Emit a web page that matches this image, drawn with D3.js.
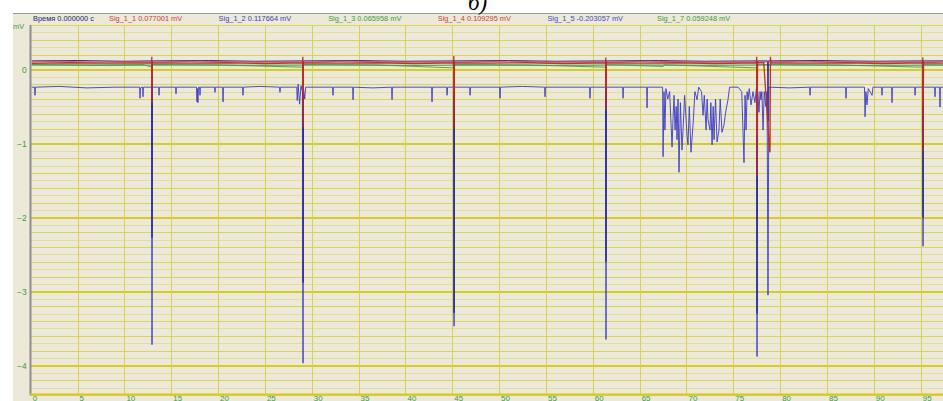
<!DOCTYPE html>
<html><head><meta charset="utf-8">
<script src="https://cdn.jsdelivr.net/npm/d3@7"></script>
<style>body{margin:0;background:#fff}svg{display:block}</style>
</head><body><svg id="c" width="943" height="401"></svg>
<script>
// ---------- data ----------
const titleText = "б)";
const unitLabel = "mV";
const xTicks = [0,5,10,15,20,25,30,35,40,45,50,55,60,65,70,75,80,85,90,95];
const yTicks = [0,-1,-2,-3,-4];
const headerLabels = ["Время 0.000000 с","Sig_1_1 0.077001 mV","Sig_1_2 0.117664 mV","Sig_1_3 0.065958 mV","Sig_1_4 0.109295 mV","Sig_1_5 -0.203057 mV","Sig_1_7 0.059248 mV"];

const sig11 = [[0,0.08],[4,0.09],[8,0.085],[12.9,0.09],[12.93,0.17],[12.95,-0.45],[12.99,0.09],[17,0.085],[21,0.09],[25,0.08],[29.02,0.09],[29.05,0.17],[29.07,-0.78],[29.11,0.09],[33,0.085],[37,0.09],[41,0.08],[45.14,0.09],[45.17,0.18],[45.19,-0.8],[45.23,0.09],[49,0.085],[53,0.09],[57,0.08],[61.36,0.09],[61.39,0.16],[61.41,-0.55],[61.45,0.09],[65,0.085],[69,0.09],[73,0.08],[77.46,0.09],[77.5,0.17],[77.53,-1.45],[77.58,0.09],[78.25,0.09],[78.88,-1.12],[78.92,-1.1],[78.96,0.17],[79.02,0.09],[83,0.085],[87,0.09],[91,0.08],[95.2,0.09],[95.23,0.16],[95.25,-1.1],[95.3,0.09],[97.5,0.085]];
const sig14 = [[0,0.1],[3,0.11],[7,0.1],[11,0.105],[12.91,0.1],[12.96,-0.2],[13.0,0.1],[18,0.11],[23,0.1],[29.03,0.1],[29.08,-0.3],[29.12,0.1],[34,0.11],[39,0.1],[45.15,0.1],[45.2,-0.3],[45.24,0.1],[51,0.11],[56,0.1],[61.37,0.1],[61.42,-0.25],[61.46,0.1],[66,0.11],[71,0.1],[77.47,0.1],[77.54,-0.9],[77.6,0.1],[82,0.11],[88,0.1],[95.21,0.1],[95.26,-0.5],[95.31,0.1],[97.5,0.105]];
const sig12 = [[0,0.115],[5,0.12],[10,0.11],[12.91,0.115],[12.95,-2.27],[12.99,0.115],[19,0.12],[24,0.11],[29.03,0.115],[29.07,-2.88],[29.11,0.115],[35,0.12],[40,0.11],[45.15,0.115],[45.19,-3.29],[45.23,0.115],[51,0.12],[56,0.11],[61.37,0.115],[61.41,-2.6],[61.45,0.115],[67,0.12],[72,0.11],[77.49,0.115],[77.53,-3.3],[77.57,0.115],[78.66,0.115],[78.7,-0.7],[78.74,0.115],[84,0.12],[90,0.11],[95.21,0.115],[95.25,-2.0],[95.29,0.115],[97.5,0.115]];
const sig13 = [[0,0.066],[6,0.06],[12,0.065],[12.95,0.03],[13.0,0.065],[20,0.06],[29.07,0.03],[29.12,0.065],[37,0.06],[45.19,0.02],[45.24,0.065],[53,0.06],[61.41,0.03],[61.46,0.065],[67.5,0.04],[67.6,0.062],[77.53,0.02],[77.6,0.065],[86,0.06],[95.25,0.03],[95.3,0.065],[97.5,0.06]];
const sig17 = [[0,0.059],[8,0.055],[16,0.06],[24,0.056],[32,0.06],[40,0.055],[48,0.058],[56,0.055],[64,0.06],[72,0.056],[80,0.06],[88,0.055],[97.5,0.058]];
const sig15 = [[0,-0.24],[0.42,-0.24],[0.46,-0.35],[0.5,-0.24],[3,-0.23],[6,-0.25],[9,-0.24],
[11.63,-0.24],[11.67,-0.39],[11.72,-0.25],[11.95,-0.24],[11.99,-0.37],[12.03,-0.24],
[12.91,-0.24],[12.95,-3.72],[12.99,-0.24],
[13.66,-0.24],[13.7,-0.35],[13.74,-0.24],[15.47,-0.24],[15.51,-0.33],[15.55,-0.24],
[17.7,-0.24],[17.75,-0.44],[17.8,-0.26],[17.85,-0.45],[17.9,-0.24],[18.03,-0.24],[18.07,-0.35],[18.11,-0.24],
[19.63,-0.24],[19.67,-0.31],[19.71,-0.24],[20.49,-0.24],[20.53,-0.44],[20.57,-0.24],
[22.62,-0.24],[22.66,-0.35],[22.7,-0.24],[24.5,-0.23],[26.57,-0.24],[26.61,-0.31],[26.65,-0.24],
[28.4,-0.24],[28.45,-0.42],[28.55,-0.2],[28.7,-0.47],[28.85,-0.22],[29.0,-0.3],[29.07,-3.97],[29.12,-0.26],[29.25,-0.4],[29.35,-0.24],
[32.23,-0.24],[32.27,-0.35],[32.31,-0.24],[34.37,-0.24],[34.41,-0.41],[34.45,-0.24],[36.5,-0.25],
[38.53,-0.24],[38.57,-0.41],[38.61,-0.24],[42.8,-0.24],[42.84,-0.44],[42.88,-0.24],
[44.4,-0.24],[44.44,-0.35],[44.5,-0.24],[45.15,-0.24],[45.19,-3.47],[45.23,-0.24],
[46.86,-0.24],[46.9,-0.35],[46.94,-0.24],[50.06,-0.24],[50.1,-0.39],[50.14,-0.24],[52.5,-0.23],
[54.86,-0.24],[54.9,-0.37],[54.94,-0.24],[59.66,-0.24],[59.7,-0.39],[59.74,-0.24],
[61.37,-0.24],[61.41,-3.65],[61.45,-0.24],[63.19,-0.24],[63.23,-0.39],[63.27,-0.24],
[65.75,-0.24],[65.79,-0.52],[65.83,-0.24],
[67.45,-0.24],[67.5,-1.18],[67.6,-0.3],[67.7,-0.82],[67.8,-0.26],[68.0,-0.4],[68.2,-0.3],[68.46,-1.05],[68.56,-0.68],[68.67,-0.35],[68.78,-0.82],[68.9,-0.5],[68.99,-0.95],[69.1,-0.4],[69.2,-1.39],[69.35,-0.45],[69.52,-1.09],[69.63,-0.82],[69.8,-0.35],[70.06,-0.89],[70.16,-1.02],[70.3,-0.5],[70.48,-1.12],[70.7,-0.75],[70.9,-0.3],[71.13,-0.41],[71.3,-0.24],[71.6,-0.3],[71.77,-0.62],[71.9,-0.35],[72.09,-0.82],[72.2,-0.4],[72.3,-0.68],[72.51,-0.82],[72.6,-0.45],[72.73,-1.02],[72.85,-0.5],[72.94,-0.95],[73.1,-0.4],[73.26,-0.98],[73.47,-0.82],[73.6,-0.4],[73.79,-0.85],[74.0,-0.75],[74.22,-0.55],[74.43,-0.41],[74.6,-0.24],
[75.5,-0.24],[75.9,-0.3],[76.14,-1.26],[76.25,-0.35],[76.36,-0.82],[76.47,-0.3],[76.57,-0.41],[76.7,-0.26],[76.89,-0.48],[77.1,-0.3],[77.3,-0.45],[77.48,-0.24],[77.53,-3.88],[77.6,-0.3],[77.74,-0.58],[77.85,-0.3],[77.95,-0.41],[78.05,-0.3],[78.17,-0.82],[78.3,-0.3],[78.45,-0.5],[78.6,-0.3],[78.7,-3.05],[78.8,-0.24],
[81,-0.25],[83.15,-0.24],[83.19,-0.35],[83.23,-0.24],[86.99,-0.24],[87.03,-0.39],[87.07,-0.24],
[89.0,-0.24],[89.06,-0.64],[89.15,-0.3],[89.27,-0.48],[89.4,-0.26],[89.81,-0.35],[89.9,-0.24],
[90.83,-0.24],[90.87,-0.35],[90.91,-0.24],[91.9,-0.24],[91.94,-0.45],[91.98,-0.24],
[94.36,-0.24],[94.4,-0.35],[94.44,-0.24],[95.21,-0.24],[95.25,-2.39],[95.29,-0.24],
[96.49,-0.24],[96.53,-0.37],[96.57,-0.24],[97.02,-0.24],[97.06,-0.51],[97.1,-0.24],[97.5,-0.24]];

// ---------- layout ----------
const svg = d3.select("#c");
const W = 943, H = 401;
const plotL = 30.7, plotT = 25, plotB = 394.5;
const x = d3.scaleLinear().domain([0, 95]).range([30.7, 920.7]);
const y = d3.scaleLinear().domain([0.6, -4.4]).range([25, 395]);
const bg = "#ECE9D8";
const labelGreen = "#3f9a3f";
const font = "'Liberation Sans', Arial, sans-serif";

svg.append("rect").attr("width", W).attr("height", H).attr("fill", "#fff");
svg.append("rect").attr("x", 13).attr("y", 13).attr("width", W - 13).attr("height", H - 13).attr("fill", bg);
svg.append("line").attr("x1", 13).attr("x2", W).attr("y1", 13.5).attr("y2", 13.5).attr("stroke", "#9a9a9a").attr("stroke-width", 1);

// title
svg.append("text").attr("x", 468).attr("y", 10).attr("font-family", "'Liberation Serif', 'DejaVu Serif', serif")
  .attr("font-style", "italic").attr("font-size", 23).attr("fill", "#000").text(titleText);

// header labels
const headerColors = ["#1e1e70", "#c84040", "#4040b0", "#3f9a3f", "#c84040", "#4848c0", "#3f9a3f"];
svg.append("g").selectAll("text").data(headerLabels).join("text")
  .attr("x", (d, i) => i === 0 ? 33 : 109 + (i - 1) * 109.6)
  .attr("y", 20.5).attr("font-family", font).attr("font-size", 7.4)
  .attr("fill", (d, i) => headerColors[i]).text(d => d);

// grid
const grid = svg.append("g").attr("shape-rendering", "crispEdges");
const hVals = d3.range(-44, 7).map(k => k / 10);
grid.selectAll("line.h").data(hVals).join("line").attr("class", "h")
  .attr("x1", plotL).attr("x2", W)
  .attr("y1", d => Math.round(y(d)) + 0.5).attr("y2", d => Math.round(y(d)) + 0.5)
  .attr("stroke", d => {
    const k = Math.round(d * 10);
    if (k % 10 === 0) return "#d6cd22";
    if (k % 2 === 0) return "#dad45a";
    return "#e1dd9c";
  })
  .attr("stroke-width", d => Math.round(d * 10) % 10 === 0 ? 2 : 1);
grid.selectAll("line.v").data(xTicks.filter(t => t > 0)).join("line").attr("class", "v")
  .attr("x1", d => Math.round(x(d)) + 0.5).attr("x2", d => Math.round(x(d)) + 0.5)
  .attr("y1", plotT).attr("y2", plotB)
  .attr("stroke", "#d8d054").attr("stroke-width", 1);

// clip for signals
svg.append("clipPath").attr("id", "clip").append("rect")
  .attr("x", plotL + 1).attr("y", plotT).attr("width", W - plotL).attr("height", plotB - plotT);

const line = d3.line().x(d => x(d[0])).y(d => y(d[1]));
const sigG = svg.append("g").attr("clip-path", "url(#clip)");
const series = [
  {data: sig17, color: "#2f9a2f", w: 1, o: 1},
  {data: sig13, color: "#3aa03a", w: 1, o: 0.9},
  {data: sig15, color: "#3b3bc6", w: 1, o: 0.9},
  {data: sig12, color: "#2a2aa0", w: 1, o: 1},
  {data: sig14, color: "#d04848", w: 1, o: 0.85},
  {data: sig11, color: "#c02828", w: 1.3, o: 0.95}
];
sigG.selectAll("path").data(series).join("path")
  .attr("d", d => line(d.data)).attr("fill", "none")
  .attr("stroke", d => d.color).attr("stroke-width", d => d.w).attr("stroke-opacity", d => d.o)
  .attr("stroke-linejoin", "miter");

// axes lines
svg.append("line").attr("x1", 30.5).attr("x2", 30.5).attr("y1", plotT).attr("y2", plotB + 1)
  .attr("stroke", "#8e8e8e").attr("stroke-width", 2);
svg.append("line").attr("x1", 30).attr("x2", W).attr("y1", plotB).attr("y2", plotB)
  .attr("stroke", "#d4ca1e").attr("stroke-width", 2);

// y axis
const yAxis = svg.append("g").attr("transform", `translate(${plotL},0)`)
  .call(d3.axisLeft(y).tickValues(yTicks).tickSize(0).tickPadding(4).tickFormat(d3.format("d")));
yAxis.select(".domain").remove();
yAxis.selectAll("text").attr("font-family", font).attr("font-size", 8.5).attr("fill", labelGreen);

// x axis
const xAxis = svg.append("g").attr("transform", `translate(0,${plotB})`)
  .call(d3.axisBottom(x).tickValues(xTicks).tickSize(0).tickFormat(d3.format("d")));
xAxis.select(".domain").remove();
xAxis.selectAll("text").attr("font-family", font).attr("font-size", 8).attr("fill", labelGreen)
  .attr("text-anchor", "start").attr("x", 1.5).attr("y", 6.3).attr("dy", 0);

// unit label
svg.append("text").attr("x", 13).attr("y", 28.5).attr("font-family", font).attr("font-size", 7.4)
  .attr("fill", labelGreen).text(unitLabel);
</script></body></html>
